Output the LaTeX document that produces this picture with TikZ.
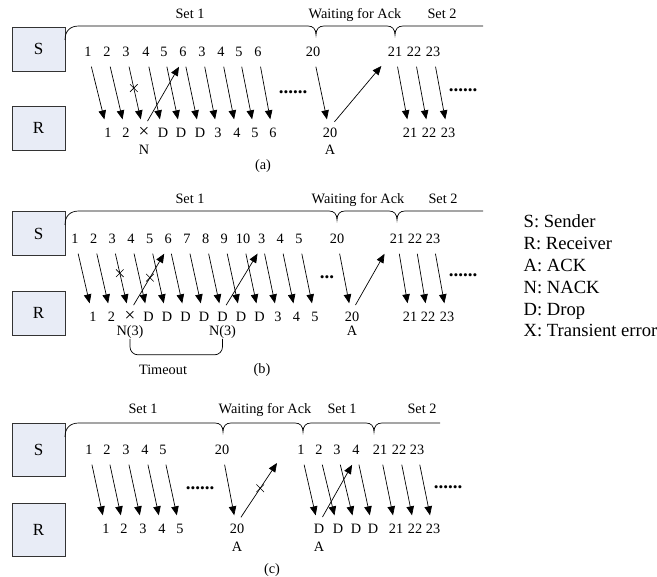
\documentclass[tikz,border=0pt]{standalone}
\usepackage{fontspec}
\setmainfont{Liberation Serif}
\usetikzlibrary{arrows.meta,shapes.misc}
\definecolor{boxfill}{RGB}{232,236,246}
\newcommand{\errmark}{{\fontsize{19}{16}\selectfont ×}}
\tikzset{
  host/.style={draw=black!80, fill=boxfill, minimum width=53pt, minimum height=44pt,
    font=\fontsize{17}{20}\selectfont},
  msg/.style={-{Triangle[length=9pt,width=7.5pt]}, shorten <=7pt, shorten >=8pt},
  lost/.style={cross out, draw, -, shorten <=0pt, shorten >=0pt, minimum size=7pt,
    inner sep=0pt, text height=0pt, text depth=0pt, line width=0.6pt},
  waitdots/.style={anchor=base, font=\fontsize{19}{20}\selectfont\bfseries},
}
\begin{document}
\begin{tikzpicture}[x=1pt, y=-1pt, line width=0.7pt,
    every node/.style={font=\fontsize{14.3}{16}\selectfont}]
  \useasboundingbox (0,0) rectangle (657,577);

  % (a)
  \node[host] (Sa) at (38.5,49) {S};
  \node[host] (Ra) at (38.5,128) {R};
  \draw (65,40) .. controls (65,31) and (70,26) .. (79,26)
    -- (308,26) .. controls (313,26) and (316,29) .. (316,35)
    .. controls (316,29) and (319,26) .. (324,26)
    -- (387,26) .. controls (392,26) and (395,29) .. (395,35)
    .. controls (395,29) and (398,26) .. (403,26) -- (483,26);
  \draw
    (190,14) node (seta1){Set 1}
    (355,15) node (waita){Waiting for Ack}
    (442,14) node (seta2){Set 2};
  \begin{scope}[every node/.append style={inner sep=1pt, text height=9pt, text depth=2pt}]
    \draw
      (88,53) node (sa1){1}
      (107,53) node (sa2){2}
      (126,53) node (sa3){3}
      (146,53) node (sa4){4}
      (164,53) node (sa5){5}
      (183,53) node (sa6){6}
      (202,53) node (sa7){3}
      (221,53) node (sa8){4}
      (239,53) node (sa9){5}
      (258,53) node (sa10){6}
      (313,53) node (sa20){20}
      (395,53) node (sa21){21}
      (414,53) node (sa22){22}
      (433,53) node (sa23){23};
    \draw
      (108,134) node (ra1){1}
      (126,134) node (ra2){2}
      (144,134) node (ra3){\errmark}
      (163,134) node (ra4){D}
      (181,134) node (ra5){D}
      (200,134) node (ra6){D}
      (218,134) node (ra7){3}
      (237,134) node (ra8){4}
      (255,134) node (ra9){5}
      (273,134) node (ra10){6}
      (330,134) node (ra20){20}
      (410,134) node (ra21){21}
      (429,134) node (ra22){22}
      (448,134) node (ra23){23}
      (144,151) node (na){N}
      (330,151) node (aa){A};
  \end{scope}
  \begin{scope}[msg]
    \draw (sa1) to (ra1);
    \draw (sa2) to (ra2);
    \draw (sa3) to node[lost, pos=0.42]{} (ra3);
    \draw (sa4) to (ra4);
    \draw (sa5) to (ra5);
    \draw (sa6) to (ra6);
    \draw (sa7) to (ra7);
    \draw (sa8) to (ra8);
    \draw (sa9) to (ra9);
    \draw (sa10) to (ra10);
    \draw (sa20) to (ra20);
    \draw (sa21) to (ra21);
    \draw (sa22) to (ra22);
    \draw (sa23) to (ra23);
    \draw (ra3.north) to (sa6.south);
    \draw (ra20.north) to (sa21.south west);
  \end{scope}
  \node[waitdots] (dotsa1) at (293,93.5) {......};
  \node[waitdots] (dotsa2) at (463,91.5) {......};
  \node (capa) at (263,166) {(a)};

  % (b)
  \node[host] (Sb) at (38.5,233.5) {S};
  \node[host] (Rb) at (38.5,313) {R};
  \draw (65,225) .. controls (65,216) and (70,211) .. (79,211)
    -- (329,211) .. controls (334,211) and (337,214) .. (337,220)
    .. controls (337,214) and (340,211) .. (345,211)
    -- (389,211) .. controls (394,211) and (397,214) .. (397,220)
    .. controls (397,214) and (400,211) .. (405,211) -- (483,211);
  \draw
    (190,199) node (setb1){Set 1}
    (358,200) node (waitb){Waiting for Ack}
    (443,199) node (setb2){Set 2};
  \begin{scope}[every node/.append style={inner sep=1pt, text height=9pt, text depth=2pt}]
    \draw
      (75,240) node (sb1){1}
      (93.7,240) node (sb2){2}
      (112.3,240) node (sb3){3}
      (131,240) node (sb4){4}
      (149.7,240) node (sb5){5}
      (168.3,240) node (sb6){6}
      (187,240) node (sb7){7}
      (205.7,240) node (sb8){8}
      (224.3,240) node (sb9){9}
      (243,240) node (sb10){10}
      (261.7,240) node (sb11){3}
      (280.3,240) node (sb12){4}
      (299,240) node (sb13){5}
      (337,240) node (sb20){20}
      (397,240) node (sb21){21}
      (415,240) node (sb22){22}
      (433,240) node (sb23){23};
    \draw
      (93,318) node (rb1){1}
      (111.5,318) node (rb2){2}
      (130,318) node (rb3){\errmark}
      (148.5,318) node (rb4){D}
      (167,318) node (rb5){D}
      (185.5,318) node (rb6){D}
      (204,318) node (rb7){D}
      (222.5,318) node (rb8){D}
      (241,318) node (rb9){D}
      (259.5,318) node (rb10){D}
      (278,318) node (rb11){3}
      (296.5,318) node (rb12){4}
      (315,318) node (rb13){5}
      (352,318) node (rb20){20}
      (410,318) node (rb21){21}
      (428,318) node (rb22){22}
      (447,318) node (rb23){23}
      (130,332) node (nb1){N(3)}
      (222.5,332) node (nb2){N(3)}
      (352,332) node (ab){A};
  \end{scope}
  \begin{scope}[msg]
    \draw (sb1) to (rb1);
    \draw (sb2) to (rb2);
    \draw (sb3) to node[lost, pos=0.41]{} (rb3);
    \draw (sb4) to (rb4);
    \draw (sb5) to (rb5);
    \draw (sb6) to (rb6);
    \draw (sb7) to (rb7);
    \draw (sb8) to (rb8);
    \draw (sb9) to (rb9);
    \draw (sb10) to (rb10);
    \draw (sb11) to (rb11);
    \draw (sb12) to (rb12);
    \draw (sb13) to (rb13);
    \draw (sb20) to (rb20);
    \draw (sb21) to (rb21);
    \draw (sb22) to (rb22);
    \draw (sb23) to (rb23);
    \draw (rb3.north) to node[lost, pos=0.52]{} (sb6.south);
    \draw (rb8.north) to (sb11.south);
    \draw (rb20.north) to (sb21.south west);
  \end{scope}
  \draw[rounded corners=8pt] (nb1.south) -- ++(0,16) -| (nb2.south);
  \node[waitdots] (dotsb1) at (327,278.5) {...};
  \node[waitdots] (dotsb2) at (463,276.5) {......};
  \node (timeout) at (163,370) {Timeout};
  \node (capb) at (262,370) {(b)};
  \node[anchor=west, align=left, font=\fontsize{18.6}{21.8}\selectfont] (legend) at (520,276)
    {S: Sender\\R: Receiver\\A: ACK\\N: NACK\\D: Drop\\X: Transient error};

  % (c)
  \node[host, minimum height=53pt] (Sc) at (38.5,449.5) {S};
  \node[host, minimum height=53pt] (Rc) at (38.5,529.5) {R};
  \draw (65,437) .. controls (65,428) and (70,423) .. (79,423)
    -- (215,423) .. controls (220,423) and (223,426) .. (223,432)
    .. controls (223,426) and (226,423) .. (231,423)
    -- (295,423) .. controls (300,423) and (303,426) .. (303,432)
    .. controls (303,426) and (306,423) .. (311,423)
    -- (366,423) .. controls (371,423) and (374,426) .. (374,432)
    .. controls (374,426) and (377,423) .. (382,423) -- (440,423);
  \draw
    (143,409) node (setc1){Set 1}
    (265,410) node (waitc){Waiting for Ack}
    (342,409) node (setc3){Set 1}
    (422,409) node (setc2){Set 2};
  \coordinate (lostack) at (277,463);
  \begin{scope}[every node/.append style={inner sep=1pt, text height=9pt, text depth=2pt}]
    \draw
      (89,451) node (sc1){1}
      (107,451) node (sc2){2}
      (126,451) node (sc3){3}
      (145,451) node (sc4){4}
      (163,451) node (sc5){5}
      (222,451) node (sc20){20}
      (301,451) node (sc6){1}
      (319,451) node (sc7){2}
      (337,451) node (sc8){3}
      (356,451) node (sc9){4}
      (380,451) node (sc21){21}
      (399,451) node (sc22){22}
      (417,451) node (sc23){23};
    \draw
      (106,530) node (rc1){1}
      (124,530) node (rc2){2}
      (143,530) node (rc3){3}
      (162,530) node (rc4){4}
      (180,530) node (rc5){5}
      (237,530) node (rc20){20}
      (319,530) node (rc6){D}
      (338,530) node (rc7){D}
      (356,530) node (rc8){D}
      (373,530) node (rc9){D}
      (396,530) node (rc21){21}
      (415,530) node (rc22){22}
      (433,530) node (rc23){23}
      (237,548) node (ac1){A}
      (319,548) node (ac2){A};
  \end{scope}
  \begin{scope}[msg]
    \draw (sc1) to (rc1);
    \draw (sc2) to (rc2);
    \draw (sc3) to (rc3);
    \draw (sc4) to (rc4);
    \draw (sc5) to (rc5);
    \draw (sc20) to (rc20);
    \draw (sc6) to (rc6);
    \draw (sc7) to (rc7);
    \draw (sc8) to (rc8);
    \draw (sc9) to (rc9);
    \draw (sc21) to (rc21);
    \draw (sc22) to (rc22);
    \draw (sc23) to (rc23);
    \draw[shorten >=0pt] (rc20.north) to node[lost, pos=0.58]{} (lostack);
    \draw (rc6.north) to (sc9.south);
  \end{scope}
  \node[waitdots] (dotsc1) at (200,489.5) {......};
  \node[waitdots] (dotsc2) at (448,488.5) {......};
  \node (capc) at (272,570) {(c)};
\end{tikzpicture}
\end{document}
